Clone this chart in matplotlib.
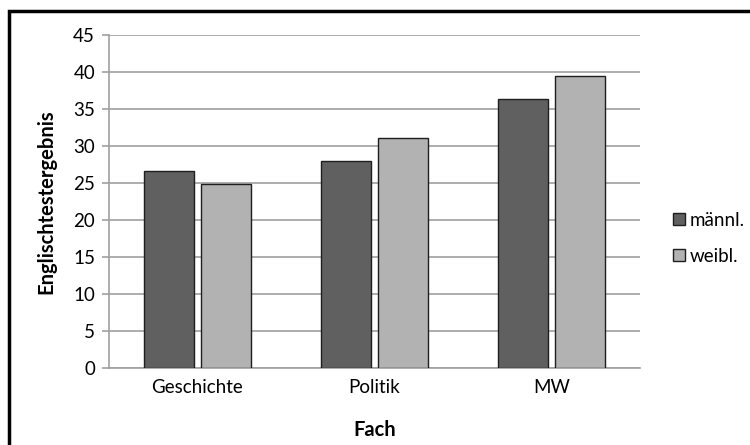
import numpy as np
import matplotlib
matplotlib.use("Agg")
import matplotlib.pyplot as plt
from matplotlib.patches import Rectangle

faecher = ["Geschichte", "Politik", "MW"]
maennl = [26.6, 28.0, 36.3]
weibl = [24.8, 31.1, 39.5]
yticks = [0, 5, 10, 15, 20, 25, 30, 35, 40, 45]

plt.rcParams['font.family'] = ['Lato', 'DejaVu Sans']

fig = plt.figure(figsize=(7.5, 4.45), dpi=100)
ax = fig.add_axes([109/750, 77/445, 531/750, 333/445])

x = np.arange(len(faecher))
w = 0.277
off = w/2 + 0.0225
ax.bar(x - off, maennl, w, color='#606060', edgecolor='#1e1e1e', linewidth=1, label='männl.', zorder=3)
ax.bar(x + off, weibl, w, color='#b2b2b2', edgecolor='#1e1e1e', linewidth=1, label='weibl.', zorder=3)

ax.set_xlim(-0.5, 2.5)
ax.set_ylim(0, 45)
ax.set_yticks(yticks)
ax.set_xticks(x)
ax.set_xticklabels(faecher)
ax.yaxis.grid(True, color='#a0a0a0', linewidth=1.2, zorder=0)
ax.tick_params(axis='y', length=5, color='#a0a0a0', width=1.2, labelsize=13.5, pad=5)
ax.tick_params(axis='x', length=0, labelsize=13.5, pad=8)
for s in ['top', 'right']:
    ax.spines[s].set_visible(False)
for s in ['left', 'bottom']:
    ax.spines[s].set_color('#a0a0a0')
    ax.spines[s].set_linewidth(1.2)

ax.set_ylabel('Englischtestergebnis', fontsize=14.5, fontweight='bold', labelpad=12)
ax.set_xlabel('Fach', fontsize=14.5, fontweight='bold', labelpad=17)

ax.legend(loc='center left', bbox_to_anchor=(1.03, 0.39), frameon=False,
          fontsize=13.5, handlelength=0.65, handleheight=0.65, handletextpad=0.25,
          labelspacing=1.0)

fig.patches.append(Rectangle((9/750, -0.1), 1.2, (445-11)/445 + 0.1, transform=fig.transFigure,
                             fill=False, edgecolor='black', linewidth=2.5))

fig.savefig('out.png', dpi=100)
